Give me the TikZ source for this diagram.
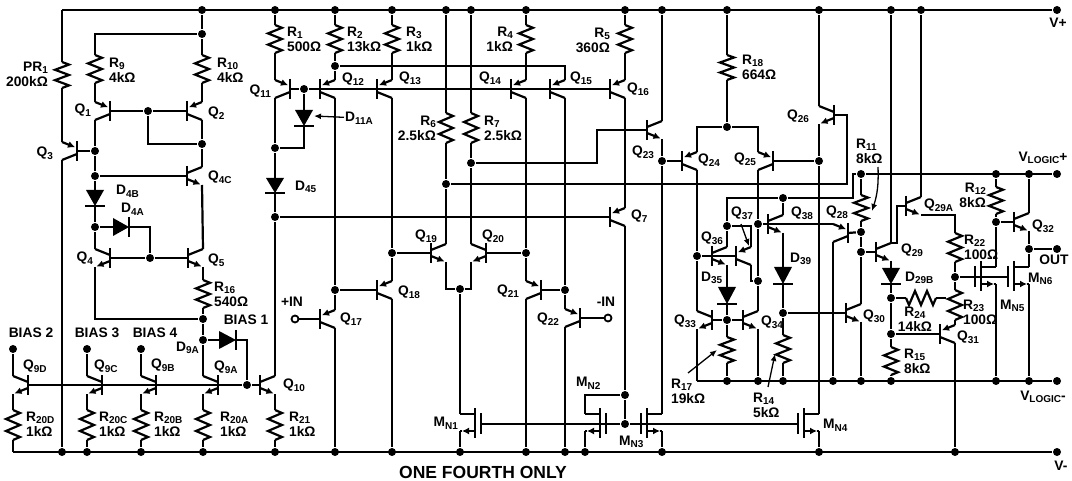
\documentclass[tikz,border=0pt]{standalone}
\usepackage{fontspec}
\setmainfont{Liberation Sans}
\usetikzlibrary{arrows.meta}

\tikzset{
  dot/.style={circle, fill=black, inner sep=0pt, minimum size=8pt},
  opendot/.style={circle, draw, fill=white, inner sep=0pt, minimum size=7pt, line width=1.8pt},
  lab/.style={font=\bfseries\fontsize{13.8}{15}\selectfont, inner sep=0pt, align=left, anchor=west},
  labr/.style={lab, align=right, anchor=east},
  labc/.style={lab, align=center, anchor=center},
  bar/.style={line width=2.8pt},
  tip/.style={-{Latex[length=7pt,width=7pt]}},
  leader/.style={line width=1.3pt, -{Latex[length=7pt,width=6pt]}},
}
\newcommand{\subs}[1]{\raisebox{-0.35ex}{\fontsize{10}{10}\selectfont #1}}

% name, wire x, y, side
\newcommand{\pnp}[4]{
  \coordinate (#1) at ({#2-(#4)*15},#3);
  \coordinate (#1t) at (#2,#3-9);
  \coordinate (#1l) at (#2,#3+9);
  \draw[bar] ({#2-(#4)*15},#3-10) -- ({#2-(#4)*15},#3+10);
  \draw[tip] (#1t) -- ({#2-(#4)*13},#3-3.8);
  \draw ({#2-(#4)*15},#3+3) -- (#1l);
}
\newcommand{\npn}[4]{
  \coordinate (#1) at ({#2-(#4)*15},#3);
  \coordinate (#1t) at (#2,#3-9);
  \coordinate (#1l) at (#2,#3+9);
  \draw[bar] ({#2-(#4)*15},#3-10) -- ({#2-(#4)*15},#3+10);
  \draw (#1t) -- ({#2-(#4)*15},#3-3);
  \draw[tip] ({#2-(#4)*15},#3+3) -- ({#2-(#4)*1.5},#3+8.4);
}
% name, wire x, y, side
\newcommand{\nmos}[4]{
  \coordinate (#1g) at ({#2-(#4)*21},#3);
  \coordinate (#1d) at (#2,#3-10);
  \coordinate (#1s) at (#2,#3+7);
  \draw[bar] ({#2-(#4)*15},#3-16) -- ({#2-(#4)*15},#3+14);
  \draw[bar] ({#2-(#4)*21},#3-11) -- ({#2-(#4)*21},#3+10);
  \draw ({#2-(#4)*15},#3-10) -- (#1d);
  \draw[tip] ({#2-(#4)*15},#3+7) -- ({#2-(#4)*2},#3+7);
  \draw ({#2-(#4)*2},#3+7) -- (#1s);
}
% name, x, y top, y bottom
\newcommand{\resv}[4]{
  \coordinate (#1a) at (#2,#3);
  \coordinate (#1b) at (#2,#4);
  \draw (#1a) -- ({#2+7},{#3+(#4-#3)*0.1}) -- ({#2-7},{#3+(#4-#3)*0.3})
    -- ({#2+7},{#3+(#4-#3)*0.5}) -- ({#2-7},{#3+(#4-#3)*0.7})
    -- ({#2+7},{#3+(#4-#3)*0.9}) -- (#1b);
}
% name, y, x left, x right
\newcommand{\resh}[4]{
  \coordinate (#1a) at (#3,#2);
  \coordinate (#1b) at (#4,#2);
  \draw (#1a) -- ({#3+(#4-#3)*0.1},#2+7) -- ({#3+(#4-#3)*0.3},#2-7)
    -- ({#3+(#4-#3)*0.5},#2+7) -- ({#3+(#4-#3)*0.7},#2-7)
    -- ({#3+(#4-#3)*0.9},#2+7) -- (#1b);
}
% name, x, y top, y bottom
\newcommand{\diodev}[4]{
  \coordinate (#1a) at (#2,#3);
  \coordinate (#1b) at (#2,#4);
  \fill (#2-9,#3) -- (#2+9,#3) -- (#1b) -- cycle;
  \draw[bar] (#2-10,#4) -- (#2+10,#4);
}
% name, y, x left, x right
\newcommand{\dioder}[4]{
  \coordinate (#1a) at (#3,#2);
  \coordinate (#1b) at (#4,#2);
  \fill (#3,#2-9) -- (#3,#2+9) -- (#1b) -- cycle;
  \draw[bar] (#4,#2-10) -- (#4,#2+10);
}

\begin{document}
\begin{tikzpicture}[x=1pt, y=-1pt, line width=2.2pt]
\useasboundingbox (0,0) rectangle (1072,481);

% rails
\coordinate (topl) at (62,10);
\node [dot] (vp) at (1057,10) {};
\node [dot] (tR10) at (202,10) {};
\node [dot] (tR1) at (275,10) {};
\node [dot] (tR2) at (335,10) {};
\node [dot] (tR3) at (392,10) {};
\node [dot] (tR6) at (446,10) {};
\node [dot] (tR7) at (471,10) {};
\node [dot] (tR4) at (526,10) {};
\node [dot] (tR5) at (625,10) {};
\node [dot] (tQ23) at (662,10) {};
\node [dot] (tR18) at (727,10) {};
\node [dot] (tQ26) at (819,10) {};
\node [dot] (tQ29) at (891,10) {};
\node [dot] (tQ29A) at (921,10) {};
\draw (topl) -- (vp);

\coordinate (botl) at (13,452);
\node [dot] (vm) at (1057,452) {};
\node [dot] (b62) at (62,452) {};
\node [dot] (b87) at (87,452) {};
\node [dot] (b141) at (141,452) {};
\node [dot] (b203) at (203,452) {};
\node [dot] (b275) at (275,452) {};
\node [dot] (b335) at (335,452) {};
\node [dot] (b392) at (392,452) {};
\node [dot] (b460) at (460,452) {};
\node [dot] (b526) at (526,452) {};
\node [dot] (b565) at (565,452) {};
\node [dot] (b585) at (585,452) {};
\node [dot] (b662) at (662,452) {};
\node [dot] (b819) at (819,452) {};
\node [dot] (b955) at (955,452) {};
\draw (botl) -- (vm);

\coordinate (logml) at (697,381);
\node [dot] (vlm) at (1057,381) {};
\node [dot] (e727) at (727,381) {};
\node [dot] (e758) at (758,381) {};
\node [dot] (e783) at (783,381) {};
\node [dot] (e833) at (833,381) {};
\node [dot] (e861) at (861,381) {};
\node [dot] (e891) at (891,381) {};
\node [dot] (e996) at (996,381) {};
\node [dot] (e1029) at (1029,381) {};
\draw (logml) -- (vlm);

\node [dot] (d36) at (861,174) {};
\node [dot] (d37) at (996,174) {};
\node [dot] (d38) at (1029,174) {};
\node [dot] (vlp) at (1057,174) {};
\draw (d36) -- (vlp);

% left bias block
\resv{PR1}{62}{62}{88}
\pnp{Q3}{62}{151}{-1}
\draw (topl) -- (PR1a);
\draw (PR1b) -- (Q3t);
\draw (Q3l) -- (b62);

\node [dot] (d1) at (202,34) {};
\node [dot] (d2) at (148,111) {};
\node [dot] (d3) at (202,144) {};
\node [dot] (d4) at (95,151) {};
\node [dot] (d5) at (95,176) {};
\node [dot] (d6) at (95,227) {};
\node [dot] (d7) at (150,258) {};
\node [dot] (d8) at (203,319) {};
\node [dot] (d9) at (203,340) {};
\node [dot] (d10) at (247,385) {};
\resv{R9}{95}{55}{83}
\resv{R10}{202}{55}{83}
\pnp{Q1}{95}{111}{-1}
\pnp{Q2}{202}{111}{1}
\npn{Q4C}{202}{176}{1}
\diodev{D4B}{95}{190}{206}
\dioder{D4A}{227}{113}{129}
\npn{Q4}{95}{258}{-1}
\npn{Q5}{203}{258}{1}
\resv{R16}{203}{280}{308}
\dioder{D9A}{340}{219}{236}
\draw (tR10) -- (d1);
\draw (d1) -| (R9a);
\draw (d1) -- (R10a);
\draw (R9b) -- (Q1t);
\draw (R10b) -- (Q2t);
\draw (Q1) -- (d2) -- (Q2);
\draw (d2) |- (d3);
\draw (Q2l) -- (d3) -- (Q4Ct);
\draw (Q1l) -- (d4) -- (d5) -- (D4Ba);
\draw (Q3) -- (d4);
\draw (Q4C) -- (d5);
\draw (D4Bb) -- (d6) -- (Q4t);
\draw (d6) -- (D4Aa);
\draw (D4Ab) -| (d7);
\draw (Q4) -- (d7) -- (Q5);
\draw (Q4l) |- (d8);
\draw (Q4Cl) -- (Q5t);
\draw (Q5l) -- (R16a);
\draw (R16b) -- (d8) -- (d9);
\draw (d9) -- (D9Aa);
\draw (D9Ab) -| (d10);

% bias 2 3 4 1
\node [dot] (bias2) at (13,349) {};
\node [dot] (bias3) at (87,349) {};
\node [dot] (bias4) at (141,349) {};
\npn{Q9D}{13}{385}{-1}
\npn{Q9C}{87}{385}{-1}
\npn{Q9B}{141}{385}{-1}
\npn{Q9A}{203}{385}{-1}
\npn{Q10}{275}{385}{1}
\resv{R20D}{13}{410}{440}
\resv{R20C}{87}{410}{440}
\resv{R20B}{141}{410}{440}
\resv{R20A}{203}{410}{440}
\resv{R21}{275}{410}{440}
\draw (Q9D) -- (d10) -- (Q10);
\draw (bias2) -- (Q9Dt);
\draw (bias3) -- (Q9Ct);
\draw (bias4) -- (Q9Bt);
\draw (d9) -- (Q9At);
\draw (Q9Dl) -- (R20Da);
\draw (Q9Cl) -- (R20Ca);
\draw (Q9Bl) -- (R20Ba);
\draw (Q9Al) -- (R20Aa);
\draw (Q10l) -- (R21a);
\draw (R20Db) -- (botl);
\draw (R20Cb) -- (b87);
\draw (R20Bb) -- (b141);
\draw (R20Ab) -- (b203);
\draw (R21b) -- (b275);

% input stage
\node [dot] (d11) at (275,148) {};
\node [dot] (d12) at (275,217) {};
\node [dot] (d13) at (304,89) {};
\node [dot] (d14) at (335,66) {};
\node [dot] (d15) at (335,290) {};
\node [dot] (d16) at (392,253) {};
\node [dot] (d17) at (446,184) {};
\node [dot] (d18) at (460,289) {};
\node [dot] (d19) at (471,163) {};
\node [dot] (d20) at (526,253) {};
\node [dot] (d21) at (565,290) {};
\node [dot] (d22) at (625,395) {};
\node [dot] (d23) at (625,424) {};
\node [opendot] (inp) at (295,319) {};
\node [opendot] (inm) at (608,318) {};
\resv{R1}{275}{25}{53}
\resv{R2}{335}{25}{53}
\resv{R3}{392}{25}{53}
\resv{R4}{526}{25}{53}
\resv{R5}{625}{25}{53}
\resv{R6}{446}{113}{143}
\resv{R7}{471}{113}{143}
\pnp{Q11}{275}{89}{-1}
\pnp{Q12}{335}{89}{1}
\pnp{Q13}{392}{89}{1}
\pnp{Q14}{526}{89}{1}
\pnp{Q15}{565}{89}{1}
\pnp{Q16}{625}{89}{1}
\diodev{D11A}{304}{110}{126}
\diodev{D45}{275}{178}{193}
\pnp{Q17}{335}{319}{1}
\pnp{Q18}{392}{290}{1}
\npn{Q19}{446}{253}{1}
\npn{Q20}{471}{253}{-1}
\pnp{Q21}{526}{290}{-1}
\pnp{Q22}{565}{318}{-1}
\pnp{Q7}{625}{217}{1}
\draw (tR1) -- (R1a);
\draw (tR2) -- (R2a);
\draw (tR3) -- (R3a);
\draw (tR4) -- (R4a);
\draw (tR5) -- (R5a);
\draw (tR6) -- (R6a);
\draw (tR7) -- (R7a);
\draw (R1b) -- (Q11t);
\draw (R2b) -- (d14) -- (Q12t);
\draw (R3b) -- (Q13t);
\draw (R4b) -- (Q14t);
\draw (R5b) -- (Q16t);
\draw (d14) -| (Q15t);
\draw (Q11) -- (d13) -- (Q16);
\draw (d13) -- (D11Aa);
\draw (D11Ab) |- (d11);
\draw (Q11l) -- (d11) -- (D45a);
\draw (D45b) -- (d12) -- (Q10t);
\draw (d12) -- (Q7);
\draw (Q12l) -- (d15) -- (Q17t);
\draw (d15) -- (Q18);
\draw (Q17l) -- (b335);
\draw (inp) -- (Q17);
\draw (Q13l) -- (d16) -- (Q18t);
\draw (Q18l) -- (b392);
\draw (d16) -- (Q19);
\draw (R6b) -- (d17) -- (Q19t);
\draw (R7b) -- (d19) -- (Q20t);
\draw (Q19l) |- (d18);
\draw (Q20l) |- (d18);
\draw (Q20) -- (d20);
\draw (Q14l) -- (d20) -- (Q21t);
\draw (Q21l) -- (b526);
\draw (Q21) -- (d21);
\draw (Q15l) -- (d21) -- (Q22t);
\draw (Q22l) -- (b565);
\draw (Q22) -- (inm);
\draw (Q16l) -- (Q7t);
\draw (Q7l) -- (d22) -- (d23);

% current mirrors
\nmos{MN1}{460}{424}{-1}
\nmos{MN2}{585}{424}{-1}
\nmos{MN3}{662}{424}{1}
\nmos{MN4}{819}{424}{1}
\draw (d18) -- (MN1d);
\draw (MN1s) -- (b460);
\draw (MN2s) -- (b585);
\draw (MN3s) -- (b662);
\draw (MN4s) -- (b819);
\draw (d22) -| (MN2d);
\draw (MN1g) -- (d23);
\draw (d23) -- (MN4g);

% second stage
\node [dot] (d24) at (662,161) {};
\node [dot] (d25) at (727,127) {};
\node [dot] (d26) at (819,161) {};
\node [dot] (d27) at (758,224) {};
\node [dot] (d28) at (758,281) {};
\node [dot] (d29) at (697,256) {};
\node [dot] (d30) at (727,226) {};
\node [dot] (d31) at (783,198) {};
\node [dot] (d32) at (727,320) {};
\node [dot] (d33) at (783,313) {};
\node [dot] (d34) at (861,232) {};
\node [dot] (d35) at (861,252) {};
\coordinate (k1) at (597,163);
\coordinate (k2) at (847,184);
\coordinate (k3) at (853,198);
\resv{R18}{727}{55}{80}
\npn{Q23}{662}{130}{1}
\pnp{Q24}{697}{161}{1}
\pnp{Q25}{758}{161}{-1}
\npn{Q26}{819}{115}{-1}
\npn{Q33}{697}{320}{-1}
\npn{Q34}{758}{320}{1}
\npn{Q36}{727}{256}{1}
\pnp{Q37}{751}{256}{1}
\npn{Q38}{783}{224}{1}
\pnp{Q28}{833}{233}{-1}
\npn{Q30}{861}{313}{1}
\diodev{D35}{727}{287}{304}
\diodev{D39}{783}{267}{284}
\resv{R17}{727}{337}{363}
\resv{R14}{783}{335}{363}
\resv{R11}{861}{195}{221}
\draw (tQ23) -- (Q23t);
\draw (tR18) -- (R18a);
\draw (R18b) -- (d25);
\draw (tQ26) -- (Q26t);
\draw (d19) -- (k1) |- (Q23);
\draw (d17) -- (k2) |- (Q26);
\draw (Q23l) -- (d24) -- (MN3d);
\draw (d24) -- (Q24);
\draw (Q24t) |- (d25);
\draw (Q25t) |- (d25);
\draw (Q26l) -- (d26) -- (MN4d);
\draw (d26) -- (Q25);
\draw (Q25l) -- (d27) -- (d28) -- (Q34t);
\draw (Q34l) -- (e758);
\draw (Q24l) -- (d29) -- (Q33t);
\draw (Q33l) -- (logml);
\draw (d29) -- (Q37);
\draw (Q36t) -- (d30);
\draw (d30) |- (d31);
\draw (d30) -| (Q37t);
\draw (Q37l) |- (d28);
\draw (Q36l) -- (D35a);
\draw (D35b) -- (d32) -- (R17a);
\draw (R17b) -- (e727);
\draw (Q33) -- (d32) -- (Q34);
\draw (d31) -- (Q38t);
\draw (Q38l) -- (D39a);
\draw (D39b) -- (d33) -- (R14a);
\draw (R14b) -- (e783);
\draw (d33) -- (Q30);
\draw (Q30l) -- (e861);
\draw (Q30t) -- (d35) -- (d34) -- (R11b);
\draw (R11a) -- (d36);
\draw (d27) -- (Q38) -- (Q28t);
\draw (Q28l) -- (e833);
\draw (Q28) -- (d34);
\draw (d31) -- (k3) |- (d36);

% output stage
\node [dot] (d39) at (891,298) {};
\node [dot] (d40) at (891,334) {};
\node [dot] (d41) at (955,277) {};
\node [dot] (d42) at (996,222) {};
\node [dot] (d43) at (1029,249) {};
\node [dot] (out) at (1057,249) {};
\coordinate (k4) at (897,206);
\coordinate (k5) at (946,298);
\npn{Q29}{891}{252}{1}
\npn{Q29A}{921}{206}{1}
\pnp{Q31}{955}{334}{1}
\npn{Q32}{1029}{222}{1}
\diodev{D29B}{891}{268}{284}
\resh{R24}{298}{906}{936}
\resv{R15}{891}{347}{375}
\resv{R22}{955}{233}{262}
\resv{R23}{955}{290}{320}
\resv{R12}{996}{187}{214}
\nmos{MN5}{996}{277}{1}
\nmos{MN6}{1029}{277}{1}
\draw (tQ29) -- (Q29t);
\draw (tQ29A) -- (Q29At);
\draw (d35) -- (Q29);
\draw (Q29A) -- (k4) |- (Q29t);
\draw (Q29l) -- (D29Ba);
\draw (D29Bb) -- (d39) -- (d40) -- (R15a);
\draw (R15b) -- (e891);
\draw (d39) -- (R24a);
\draw (R24b) -- (k5);
\draw (d40) -- (Q31);
\draw (Q29Al) -| (R22a);
\draw (R22b) -- (d41) -- (R23a);
\draw (R23b) -- (Q31t);
\draw (Q31l) -- (b955);
\draw (d41) -- (MN6g);
\draw (d37) -- (R12a);
\draw (R12b) -- (d42) -- (MN5d);
\draw (MN5s) -- (e996);
\draw (d42) -- (Q32);
\draw (d38) -- (Q32t);
\draw (Q32l) -- (d43) -- (MN6d);
\draw (MN6s) -- (e1029);
\draw (d43) -- (out);

% labels
\node [labr] (lPR1) at (49,74) {PR\subs{1}\\200kΩ};
\node [lab] (lR9) at (108,70) {R\subs{9}\\4kΩ};
\node [lab] (lR10) at (216,70) {R\subs{10}\\4kΩ};
\node [labr] (lQ1) at (92,110) {Q\subs{1}};
\node [lab] (lQ2) at (207,113) {Q\subs{2}};
\node [labr] (lQ3) at (54,153) {Q\subs{3}};
\node [lab] (lQ4C) at (207,177) {Q\subs{4C}};
\node [lab] (lD4B) at (115,191) {D\subs{4B}};
\node [lab] (lD4A) at (120,209) {D\subs{4A}};
\node [labr] (lQ4) at (94,258) {Q\subs{4}};
\node [lab] (lQ5) at (207,260) {Q\subs{5}};
\node [lab] (lR16) at (213,294) {R\subs{16}\\540Ω};
\node [labc] (lB1) at (246,320) {BIAS 1};
\node [labr] (lD9A) at (200,348) {D\subs{9A}};
\node [lab] (lQ9A) at (213,367) {Q\subs{9A}};
\node [labc] (lB2) at (31,333) {BIAS 2};
\node [labc] (lB3) at (97,333) {BIAS 3};
\node [labc] (lB4) at (155,333) {BIAS 4};
\node [lab] (lQ9D) at (22,366) {Q\subs{9D}};
\node [lab] (lQ9C) at (93,366) {Q\subs{9C}};
\node [lab] (lQ9B) at (150,365) {Q\subs{9B}};
\node [lab] (lR20D) at (25,424) {R\subs{20D}\\1kΩ};
\node [lab] (lR20C) at (98,424) {R\subs{20C}\\1kΩ};
\node [lab] (lR20B) at (153,424) {R\subs{20B}\\1kΩ};
\node [lab] (lR20A) at (219,424) {R\subs{20A}\\1kΩ};
\node [lab] (lR21) at (288,424) {R\subs{21}\\1kΩ};
\node [lab] (lQ10) at (282,385) {Q\subs{10}};
\node [lab] (lR1) at (286,39) {R\subs{1}\\500Ω};
\node [lab] (lR2) at (346,39) {R\subs{2}\\13kΩ};
\node [lab] (lR3) at (405,39) {R\subs{3}\\1kΩ};
\node [labr] (lR4) at (514,39) {R\subs{4}\\1kΩ};
\node [labr] (lR5) at (611,40) {R\subs{5}\\360Ω};
\node [lab] (lR18) at (741,67) {R\subs{18}\\664Ω};
\node [labr] (lR6) at (437,128) {R\subs{6}\\2.5kΩ};
\node [lab] (lR7) at (483,128) {R\subs{7}\\2.5kΩ};
\node [labr] (lQ11) at (272,91) {Q\subs{11}};
\node [lab] (lQ12) at (341,79) {Q\subs{12}};
\node [lab] (lQ13) at (398,78) {Q\subs{13}};
\node [labr] (lQ14) at (502,78) {Q\subs{14}};
\node [lab] (lQ15) at (569,78) {Q\subs{15}};
\node [lab] (lQ16) at (626,89) {Q\subs{16}};
\node [lab] (lD11A) at (344,118) {D\subs{11A}};
\node [lab] (lD45) at (294,187) {D\subs{45}};
\node [lab] (lQ19) at (414,236) {Q\subs{19}};
\node [lab] (lQ20) at (481,236) {Q\subs{20}};
\node [lab] (lQ18) at (397,292) {Q\subs{18}};
\node [lab] (lQ17) at (339,319) {Q\subs{17}};
\node [labr] (lQ21) at (520,291) {Q\subs{21}};
\node [labr] (lQ22) at (560,319) {Q\subs{22}};
\node [labc] (lINP) at (292,302) {+IN};
\node [labc] (lINM) at (606,302) {-IN};
\node [labr] (lMN1) at (459,423) {M\subs{N1}};
\node [lab] (lMN2) at (575,383) {M\subs{N2}};
\node [lab] (lMN3) at (618,442) {M\subs{N3}};
\node [lab] (lMN4) at (822,425) {M\subs{N4}};
\node [lab, font=\bfseries\fontsize{17.5}{18}\selectfont, anchor=center] (lOne) at (483,472) {ONE FOURTH ONLY};
\node [lab] (lQ23) at (631,152) {Q\subs{23}};
\node [lab] (lQ24) at (697,160) {Q\subs{24}};
\node [lab] (lQ25) at (733,159) {Q\subs{25}};
\node [lab] (lQ7) at (630,216) {Q\subs{7}};
\node [labr] (lQ26) at (810,116) {Q\subs{26}};
\node [lab] (lR11) at (855,151) {R\subs{11}\\8kΩ};
\node [labr] (lR12) at (987,195) {R\subs{12}\\8kΩ};
\node [labc] (lVp) at (1058,23) {V+};
\node [labc] (lVLp) at (1043,158) {V\subs{LOGIC}+};
\node [labc] (lVLm) at (1043,397) {V\subs{LOGIC}-};
\node [labc] (lVm) at (1061,466) {V-};
\node [lab] (lQ29A) at (923,205) {Q\subs{29A}};
\node [lab] (lQ32) at (1031,226) {Q\subs{32}};
\node [lab] (lQ37) at (730,213) {Q\subs{37}};
\node [lab] (lQ36) at (700,238) {Q\subs{36}};
\node [lab] (lQ38) at (790,213) {Q\subs{38}};
\node [lab] (lQ28) at (825,212) {Q\subs{28}};
\node [lab] (lD35) at (700,278) {D\subs{35}};
\node [lab] (lD39) at (789,259) {D\subs{39}};
\node [labr] (lQ33) at (697,321) {Q\subs{33}};
\node [lab] (lQ34) at (760,322) {Q\subs{34}};
\node [lab] (lR17) at (670,391) {R\subs{17}\\19kΩ};
\node [lab] (lR14) at (752,405) {R\subs{14}\\5kΩ};
\node [lab] (lQ30) at (862,316) {Q\subs{30}};
\node [lab] (lQ29) at (900,250) {Q\subs{29}};
\node [lab] (lD29B) at (904,278) {D\subs{29B}};
\node [labc] (lR24) at (915,319) {R\subs{24}\\14kΩ};
\node [lab] (lR22) at (963,247) {R\subs{22}\\100Ω};
\node [lab] (lR23) at (962,312) {R\subs{23}\\100Ω};
\node [lab] (lMN5) at (999,306) {M\subs{N5}};
\node [lab] (lMN6) at (1027,279) {M\subs{N6}};
\node [lab] (lQ31) at (956,337) {Q\subs{31}};
\node [lab] (lR15) at (903,361) {R\subs{15}\\8kΩ};
\node [labc] (lOUT) at (1054,260) {OUT};

% pointers
\coordinate (pD11A) at (314,116);
\coordinate (pR17a) at (688,373);
\coordinate (pR17b) at (717,350);
\coordinate (pR14a) at (768,387);
\coordinate (pR14b) at (775,354);
\coordinate (pR11a) at (878,167);
\coordinate (pR11b) at (872,211);
\coordinate (pQ37a) at (741,224);
\coordinate (pQ37b) at (749,246);
\draw [leader] (lD11A) -- (pD11A);
\draw [leader] (pR17a) -- (pR17b);
\draw [leader] (pR14a) -- (pR14b);
\draw [leader] (pR11a) to [bend left=10] (pR11b);
\draw [leader] (pQ37a) -- (pQ37b);
\end{tikzpicture}
\end{document}
